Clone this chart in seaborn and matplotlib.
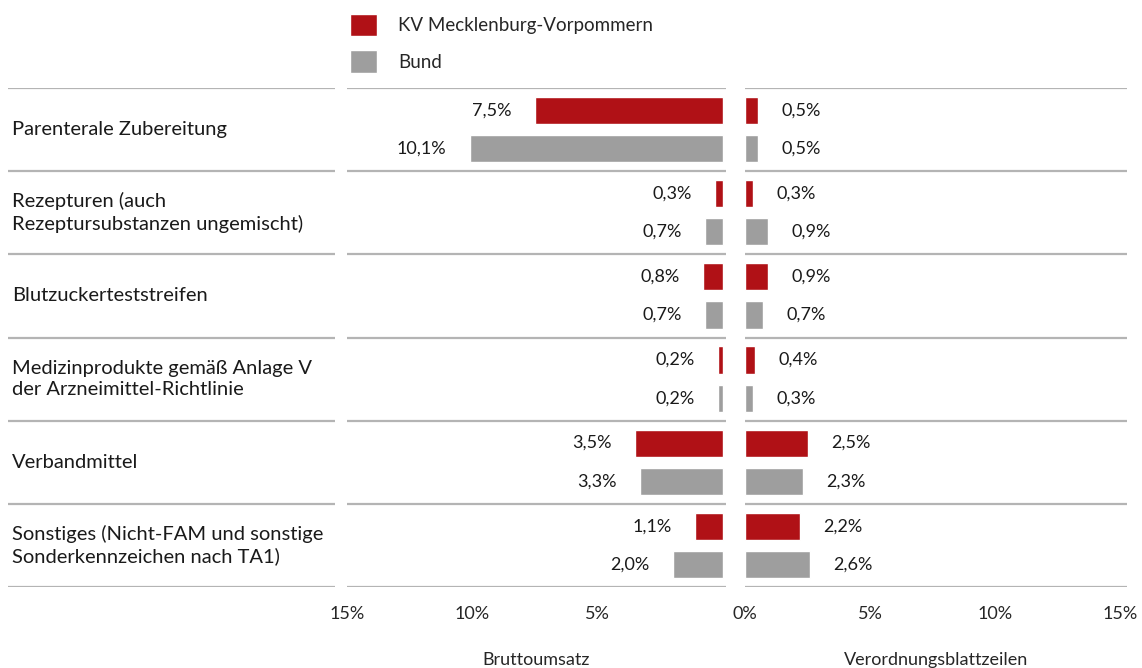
import pandas as pd
import numpy as np
import matplotlib.pyplot as plt
import seaborn as sns
from matplotlib.patches import Patch

# ---- data ----
categories = [
    "Parenterale Zubereitung",
    "Rezepturen (auch\nRezeptursubstanzen ungemischt)",
    "Blutzuckerteststreifen",
    "Medizinprodukte gemäß Anlage V\nder Arzneimittel-Richtlinie",
    "Verbandmittel",
    "Sonstiges (Nicht-FAM und sonstige\nSonderkennzeichen nach TA1)",
]
series = ["KV Mecklenburg-Vorpommern", "Bund"]
umsatz_kv = [7.5, 0.3, 0.8, 0.2, 3.5, 1.1]
umsatz_bund = [10.1, 0.7, 0.7, 0.2, 3.3, 2.0]
zeilen_kv = [0.5, 0.3, 0.9, 0.4, 2.5, 2.2]
zeilen_bund = [0.5, 0.9, 0.7, 0.3, 2.3, 2.6]
left_ticks = [15, 10, 5]
right_ticks = [0, 5, 10, 15]

RED = "#B01116"
GRAY = "#9E9E9E"
LINE = "#B4B4B4"

sns.set_style("white")
plt.rcParams["font.family"] = ["Lato", "DejaVu Sans"]


def make_df(kv, bund):
    return pd.DataFrame({
        "cat": categories * 2,
        "series": [series[0]] * len(categories) + [series[1]] * len(categories),
        "value": list(kv) + list(bund),
    })


df_left = make_df(umsatz_kv, umsatz_bund)
df_right = make_df(zeilen_kv, zeilen_bund)

W, H = 1142, 668
fig = plt.figure(figsize=(W / 100, H / 100), dpi=100)

bottom = 1 - 587 / H
height = 499 / H
ax_lab = fig.add_axes([8 / W, bottom, 327 / W, height])
ax_l = fig.add_axes([347 / W, bottom, 379 / W, height])
ax_r = fig.add_axes([745 / W, bottom, 382 / W, height])

pal = {series[0]: RED, series[1]: GRAY}


def fmt(v):
    return f"{v:.1f}%".replace(".", ",")


for ax, d, side in [(ax_l, df_left, -1), (ax_r, df_right, 1)]:
    sns.barplot(data=d, x="value", y="cat", hue="series", order=categories,
                hue_order=series, palette=pal, orient="h", width=0.92,
                gap=0.29, saturation=1, legend=False, ax=ax)
    # value labels just outside the bar ends
    for cont in ax.containers:
        for b in cont:
            v = b.get_width()
            ax.annotate(fmt(v), (v, b.get_y() + b.get_height() / 2),
                        xytext=(17 * side, 0), textcoords="offset points",
                        ha="right" if side < 0 else "left", va="center",
                        fontsize=13, color="#1a1a1a")
    ax.set_ylim(5.5, -0.5)
    for k in range(len(categories) + 1):
        ax.axhline(k - 0.5, color=LINE, lw=1.6)
    ax.set_ylabel("")
    ax.set_yticks([])
    sns.despine(ax=ax, left=True, bottom=True)
    ax.tick_params(axis="x", length=0, pad=14, labelsize=13)

ax_l.set_xlim(15, -0.12)
ax_l.set_xticks(left_ticks)
ax_l.set_xticklabels([f"{t}%" for t in left_ticks])
ax_l.set_xlabel("Bruttoumsatz", fontsize=13, labelpad=21)

ax_r.set_xlim(0, 15.28)
ax_r.set_xticks(right_ticks)
ax_r.set_xticklabels([f"{t}%" for t in right_ticks])
ax_r.set_xlabel("Verordnungsblattzeilen", fontsize=13, labelpad=21)

# category labels column
ax_lab.set_xlim(0, 1)
ax_lab.set_ylim(5.5, -0.5)
for k in range(len(categories) + 1):
    ax_lab.axhline(k - 0.5, color=LINE, lw=1.6)
for i, c in enumerate(categories):
    ax_lab.text(0.012, i, c, va="center", ha="left", fontsize=14.5,
                linespacing=1.3, color="#1a1a1a")
ax_lab.axis("off")

handles = [Patch(facecolor=RED, label=series[0]),
           Patch(facecolor=GRAY, label=series[1])]
fig.legend(handles=handles, loc="upper left", bbox_to_anchor=(350 / W, 1 - 14 / H),
           frameon=False, fontsize=13.5, handlelength=1.45, handleheight=1.45,
           handletextpad=1.1, labelspacing=0.75, borderpad=0, borderaxespad=0)

fig.savefig("out.png", dpi=100)
